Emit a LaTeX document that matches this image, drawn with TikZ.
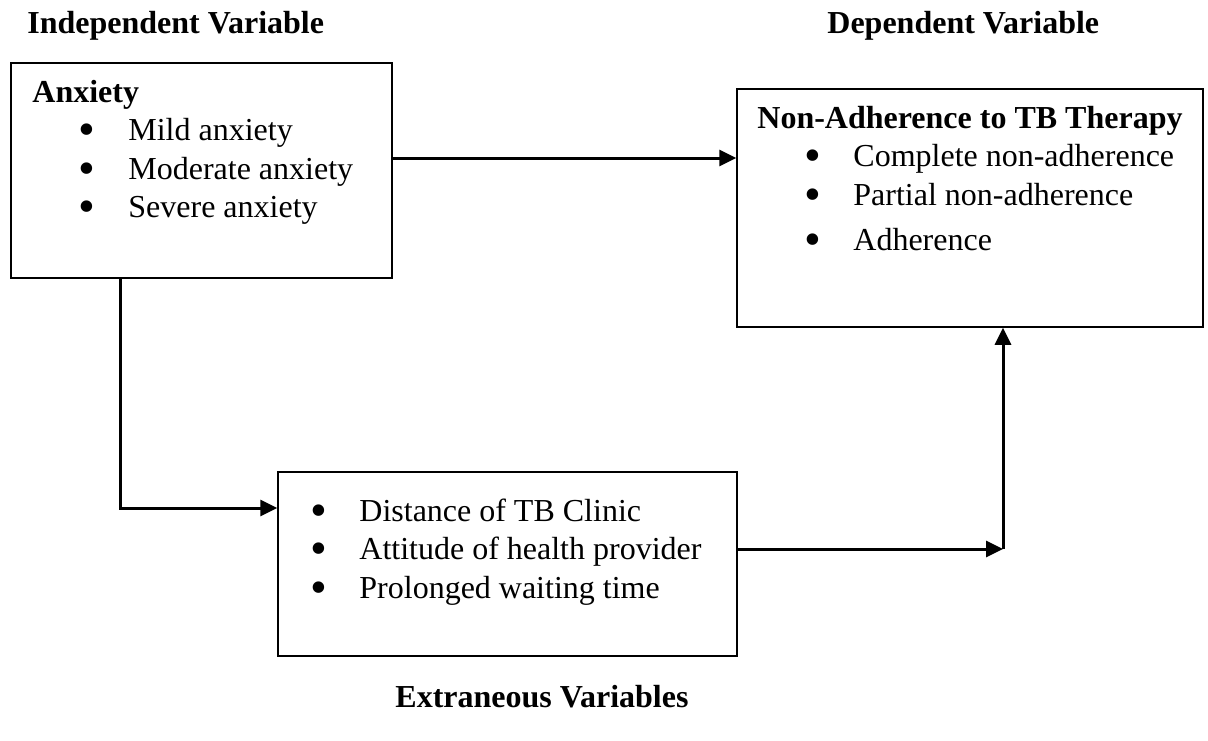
\documentclass[tikz,border=0pt]{standalone}
\usepackage{fontspec}
\setmainfont{Liberation Serif}
\usepackage{graphicx}
\usepackage{tikz}
\usetikzlibrary{arrows.meta, positioning, calc}
\newcommand{\bitem}[1]{\hspace*{27.5pt}\makebox[0pt]{\raisebox{-2.5pt}[0pt][0pt]{\scalebox{1.5}{\textbullet}}}\hspace*{20.5pt}#1}
\tikzset{
  varbox/.style={rectangle, draw=black, line width=0.75pt, inner sep=0pt},
  listtext/.style={anchor=base west, inner sep=0pt, font=\fontsize{16}{19.3}\selectfont},
  headtext/.style={anchor=base west, inner sep=0pt, font=\fontsize{16}{19.3}\selectfont\bfseries},
  arrow/.style={-{Triangle[length=8.5pt, width=8pt]}, line width=1.5pt, color=black},
}

\begin{document}
\begin{tikzpicture}[x=0.5pt, y=-0.5pt]
  \useasboundingbox (0,0) rectangle (1208,740);

  \node[varbox, minimum width=190.5pt, minimum height=107.5pt] (anx) at (201.5,170.5) {};
  \node[varbox, minimum width=233pt, minimum height=119pt] (nad) at (970,208) {};
  \node[varbox, minimum width=229.5pt, minimum height=92pt] (ext) at (507.5,564) {};

  \node[listtext] (anxlist) at (32,102)
    {\begin{tabular}[t]{@{}l@{}}\textbf{Anxiety}\\ \bitem{Mild anxiety}\\ \bitem{Moderate anxiety}\\ \bitem{Severe anxiety}\end{tabular}};
  \node[listtext] (nadlist) at (757,128)
    {\begin{tabular}[t]{@{}l@{}}\textbf{Non-Adherence to TB Therapy}\\ \bitem{Complete non-adherence}\\ \bitem{Partial non-adherence}\\[3.5pt] \bitem{Adherence}\end{tabular}};
  \node[listtext] (extlist) at (263,521)
    {\begin{tabular}[t]{@{}l@{}}\bitem{Distance of TB Clinic}\\ \bitem{Attitude of health provider}\\ \bitem{Prolonged waiting time}\end{tabular}};

  \node[headtext] (indep) at (27,33) {Independent Variable};
  \node[headtext] (dep) at (827,33) {Dependent Variable};
  \node[headtext] (extra) at (395,707) {Extraneous Variables};

  \coordinate (turn) at (1003,549);

  \draw[arrow] ([yshift=6.25pt]anx.east) -- ([yshift=6.25pt]anx.east -| nad.west);
  \draw[arrow] ([xshift=-40.75pt]anx.south) |- ([yshift=28pt]ext.west);
  \draw[arrow] ([yshift=7.5pt]ext.east) -- (turn);
  \draw[arrow] (turn) -- (turn |- nad.south);
\end{tikzpicture}
\end{document}
